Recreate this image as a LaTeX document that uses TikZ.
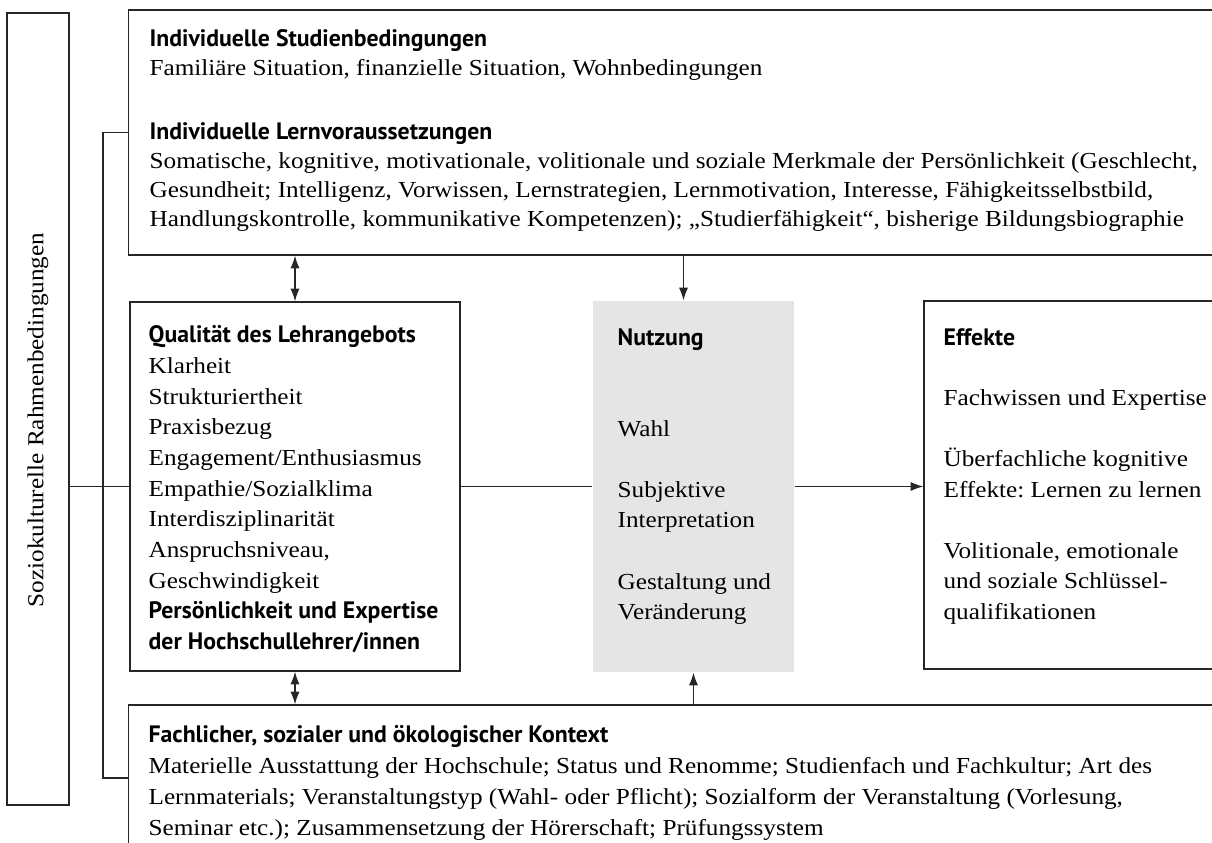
\documentclass[tikz,border=0pt]{standalone}
\usepackage{fontspec}
\setmainfont{Liberation Serif}[FakeStretch=1.1]
\newfontfamily\headfont{PT Sans}
\frenchspacing
\usetikzlibrary{positioning, arrows.meta}
\tikzset{
    box/.style={
           rectangle,
           draw=black!85, line width=0.9pt,
           inner sep=0pt,
           },
    txt/.style={
           anchor=north west,
           inner sep=0pt,
           align=left,
           text=black,
           },
}
\newcommand{\kopf}[1]{{\headfont\fontsize{16.9}{10}\selectfont\bfseries #1}}

\begin{document}
\begin{tikzpicture}[>={Latex[length=9pt,width=6.5pt]}, x=0.025cm, y=-0.025cm, line width=0.9pt, draw=black!85]
  \useasboundingbox (0,0) rectangle (1212,843);
  \clip (0,0) rectangle (1212,843);

  % Boxes
  \node[box, minimum width=1.55cm, minimum height=19.8cm]                 (rahmen)      at (38,409)     {};
  \node[box, minimum width=27.525cm, minimum height=6.125cm]              (bedingungen) at (679.5,132.5) {};
  \node[box, minimum width=8.25cm, minimum height=9.225cm]                (lehre)       at (295,486.5)  {};
  \node[box, draw=none, fill=gray!20, minimum width=5.025cm, minimum height=9.275cm] (nutzung) at (693.5,486.5) {};
  \node[box, minimum width=7.65cm, minimum height=9.2cm]                  (effekte)     at (1077,485)   {};
  \node[box, minimum width=27.525cm, minimum height=3.65cm]               (kontext)     at (679.5,778)  {};
  \coordinate (spine) at (103,450);

  % Texts
  \node[rotate=90, font={\fontsize{16.3}{20}\selectfont}] (rahmentext) at (38,420) {Soziokulturelle Rahmenbedingungen};

  \node[txt, font={\fontsize{16.3}{20.6}\selectfont}] (bedingungentext) at (149,29) {%
    \kopf{Individuelle Studienbedingungen}\\
    Familiäre Situation, finanzielle Situation, Wohnbedingungen\\[25pt]
    \kopf{Individuelle Lernvoraussetzungen}\\
    Somatische, kognitive, motivationale, volitionale und soziale Merkmale der Persönlichkeit (Geschlecht,\\
    Gesundheit; Intelligenz, Vorwissen, Lernstrategien, Lernmotivation, Interesse, Fähigkeitsselbstbild,\\
    Handlungskontrolle, kommunikative Kompetenzen); „Studierfähigkeit“, bisherige Bildungsbiographie};

  \node[txt, font={\fontsize{16.3}{21.8}\selectfont}] (lehretext) at (148,325) {%
    \kopf{Qualität des Lehrangebots}\\
    Klarheit\\
    Strukturiertheit\\
    Praxisbezug\\
    Engagement/Enthusiasmus\\
    Empathie/Sozialklima\\
    Interdisziplinarität\\
    Anspruchsniveau,\\
    Geschwindigkeit\\
    \kopf{Persönlichkeit und Expertise}\\
    \kopf{der Hochschullehrer/innen}};

  \node[txt, font={\fontsize{16.3}{21.6}\selectfont}] (nutzungtext) at (617,328) {%
    \kopf{Nutzung}\\[43pt]
    Wahl\\[22pt]
    Subjektive\\
    Interpretation\\[22pt]
    Gestaltung und\\
    Veränderung};

  \node[txt, font={\fontsize{16.3}{21.6}\selectfont}] (effektetext) at (943,328) {%
    \kopf{Effekte}\\[21pt]
    Fachwissen und Expertise\\[22pt]
    Überfachliche kognitive\\
    Effekte: Lernen zu lernen\\[22pt]
    Volitionale, emotionale\\
    und soziale Schlüssel-\\
    qualifikationen};

  \node[txt, font={\fontsize{16.3}{22}\selectfont}] (kontexttext) at (148,725) {%
    \kopf{Fachlicher, sozialer und ökologischer Kontext}\\
    Materielle Ausstattung der Hochschule; Status und Renomme; Studienfach und Fachkultur; Art des\\
    Lernmaterials; Veranstaltungstyp (Wahl- oder Pflicht); Sozialform der Veranstaltung (Vorlesung,\\
    Seminar etc.); Zusammensetzung der Hörerschaft; Prüfungssystem};

  % Rahmenbedingungen umfassen die Bedingungen und den Kontext
  \draw (bedingungen.west) -- (bedingungen.west -| spine) -- (kontext.west -| spine) -- (kontext.west);
  \draw (rahmen.east |- lehre.west) -- (lehre.west);

  % Lehrangebot -- Nutzung -- Effekte
  \draw (lehre.east) -- (nutzung.west);
  \draw[->] (nutzung.east) -- (nutzung.east -| effekte.west);

  % Lernvoraussetzungen und Lehrangebot
  \draw[<->] (lehre.north |- bedingungen.south) -- (lehre.north);
  \draw[->] ([xshift=-0.25cm]nutzung.north |- bedingungen.south) -- ([xshift=-0.25cm]nutzung.north);

  % Kontext
  \draw[<->] (lehre.south) -- (lehre.south |- kontext.north);
  \draw[->] (nutzung.south |- kontext.north) -- (nutzung.south);

\end{tikzpicture}
\end{document}
